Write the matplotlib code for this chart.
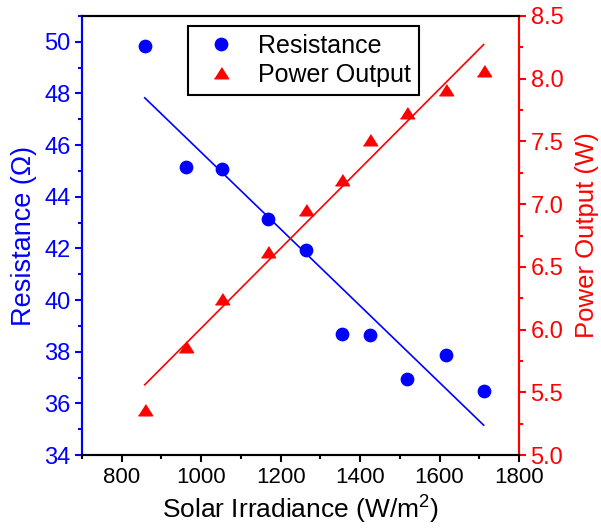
import matplotlib
matplotlib.use("Agg")
import matplotlib.pyplot as plt
import numpy as np
from matplotlib.ticker import MultipleLocator, FormatStrFormatter

plt.rcParams['font.family'] = ['Liberation Sans', 'DejaVu Sans']
plt.rcParams['mathtext.fontset'] = 'custom'
plt.rcParams['mathtext.rm'] = 'Liberation Sans'
plt.rcParams['mathtext.it'] = 'Liberation Sans:italic'

irradiance = [858, 963, 1052, 1167, 1264, 1355, 1425, 1519, 1616, 1711]
resistance = [49.84, 45.14, 45.06, 43.12, 41.92, 38.67, 38.64, 36.94, 37.88, 36.46]
power = [5.36, 5.86, 6.24, 6.62, 6.95, 7.19, 7.51, 7.73, 7.91, 8.06]

x = np.array(irradiance, dtype=float)
r = np.array(resistance)
p = np.array(power)

fig = plt.figure(figsize=(6.01, 5.28), dpi=100)
ax = fig.add_axes([82/601, 1-455/528, (519-82)/601, (455-16)/528])
ax2 = ax.twinx()

blue = '#0000ff'
red = '#ff0000'
tri = [(-1, -0.75), (1, -0.75), (0, 0.82)]

h1, = ax.plot(x, r, 'o', color=blue, markersize=8.9, label='Resistance', zorder=3)
cr = np.polyfit(x, r, 1)
ax.plot(x[[0, -1]], np.polyval(cr, x[[0, -1]]), '-', color=blue, lw=1.2)

h2, = ax2.plot(x, p, marker=tri, ls='none', color=red, markersize=10.2, label='Power Output', zorder=3)
cp = np.polyfit(x, p, 1)
ax2.plot(x[[0, -1]], np.polyval(cp, x[[0, -1]]), '-', color=red, lw=1.2)

ax.set_xlim(700, 1800)
ax.set_ylim(34, 51.0)
ax2.set_ylim(5.0, 8.5)

ax.xaxis.set_major_locator(MultipleLocator(200))
ax.xaxis.set_minor_locator(MultipleLocator(100))
ax.yaxis.set_major_locator(MultipleLocator(2))
ax.yaxis.set_minor_locator(MultipleLocator(1))
ax2.yaxis.set_major_locator(MultipleLocator(0.5))
ax2.yaxis.set_minor_locator(MultipleLocator(0.25))
ax2.yaxis.set_major_formatter(FormatStrFormatter('%.1f'))

lw = 1.5
for a in (ax, ax2):
    for s in a.spines.values():
        s.set_linewidth(lw)
ax.spines['left'].set_color(blue)
ax2.spines['left'].set_color(blue)
ax.spines['right'].set_color(red)
ax2.spines['right'].set_color(red)

ax.tick_params(axis='x', which='both', direction='out', top=False, labelsize=16, width=lw, colors='black', pad=4)
ax.tick_params(axis='x', which='major', length=4.8)
ax.tick_params(axis='x', which='minor', length=2.9)
ax.tick_params(axis='y', which='both', direction='out', labelsize=17, width=lw, colors=blue, pad=3.5)
ax.tick_params(axis='y', which='major', length=4.8)
ax.tick_params(axis='y', which='minor', length=2.9)
ax2.tick_params(axis='y', which='both', direction='out', labelsize=17, width=lw, colors=red, pad=3.5)
ax2.tick_params(axis='y', which='major', length=4.8)
ax2.tick_params(axis='y', which='minor', length=2.9)

ax.set_xlabel(r'Solar Irradiance (W/m$^\mathregular{2}$)', fontsize=19, labelpad=4)
ax.set_ylabel('Resistance (Ω)', fontsize=19.5, color=blue, labelpad=5)
ax2.set_ylabel('Power Output (W)', fontsize=18.5, color=red, labelpad=8.5)

leg = ax2.legend([h1, h2], ['Resistance', 'Power Output'], loc='upper left',
                 bbox_to_anchor=((188-82)/437, 1-(26-16)/439), fontsize=18,
                 frameon=True, fancybox=False, edgecolor='black', framealpha=1,
                 borderpad=0.3, handletextpad=0.52, labelspacing=0.22, handlelength=2.0,
                 borderaxespad=0)
leg.get_frame().set_linewidth(lw)

fig.savefig('out.png', dpi=100)
